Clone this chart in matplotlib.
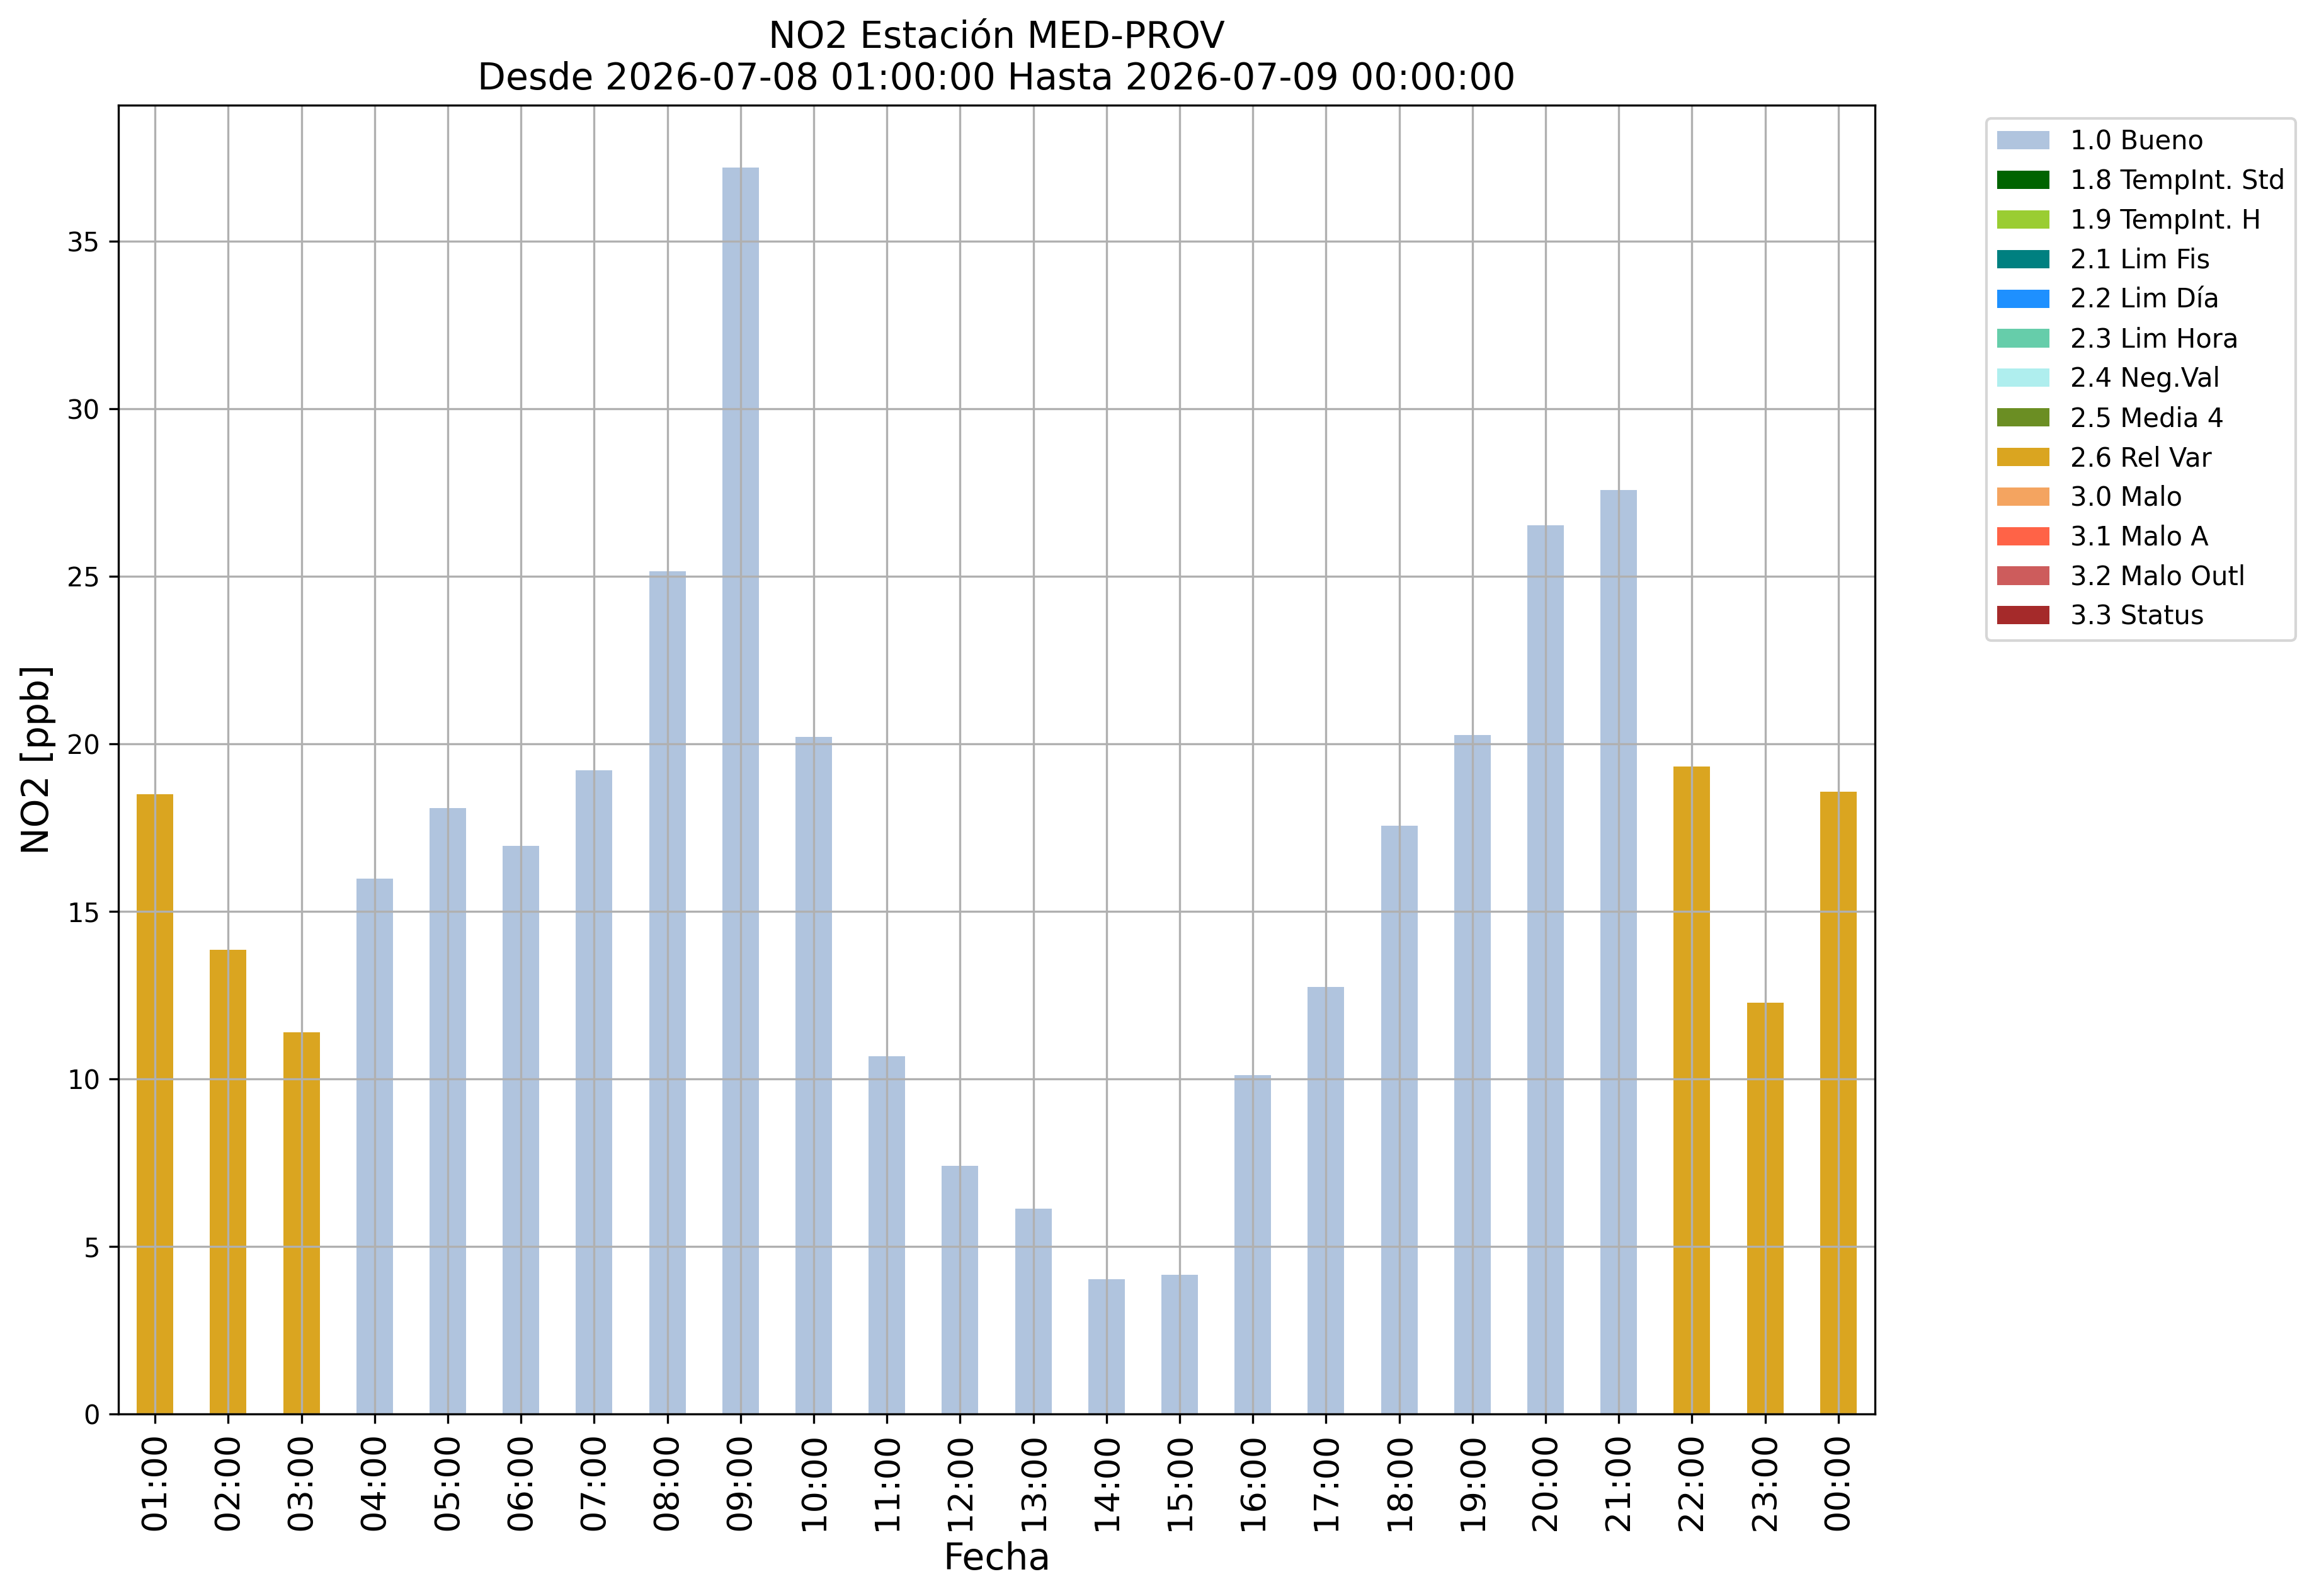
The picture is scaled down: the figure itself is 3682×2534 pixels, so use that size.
import matplotlib
matplotlib.use("Agg")
import matplotlib.pyplot as plt
from matplotlib.patches import Patch

# ---- data ----
hours = ["01:00", "02:00", "03:00", "04:00", "05:00", "06:00", "07:00", "08:00",
         "09:00", "10:00", "11:00", "12:00", "13:00", "14:00", "15:00", "16:00",
         "17:00", "18:00", "19:00", "20:00", "21:00", "22:00", "23:00", "00:00"]
no2_values = [18.49, 13.86, 11.39, 15.98, 18.09, 16.95, 19.20, 25.15,
              37.20, 20.21, 10.68, 7.41, 6.13, 4.02, 4.15, 10.11,
              12.75, 17.56, 20.26, 26.52, 27.58, 19.33, 12.27, 18.57]
bar_flags = ["2.6 Rel Var", "2.6 Rel Var", "2.6 Rel Var", "1.0 Bueno", "1.0 Bueno",
             "1.0 Bueno", "1.0 Bueno", "1.0 Bueno", "1.0 Bueno", "1.0 Bueno",
             "1.0 Bueno", "1.0 Bueno", "1.0 Bueno", "1.0 Bueno", "1.0 Bueno",
             "1.0 Bueno", "1.0 Bueno", "1.0 Bueno", "1.0 Bueno", "1.0 Bueno",
             "1.0 Bueno", "2.6 Rel Var", "2.6 Rel Var", "2.6 Rel Var"]
flag_labels = ["1.0 Bueno", "1.8 TempInt. Std", "1.9 TempInt. H", "2.1 Lim Fis",
               "2.2 Lim Día", "2.3 Lim Hora", "2.4 Neg.Val", "2.5 Media 4",
               "2.6 Rel Var", "3.0 Malo", "3.1 Malo A", "3.2 Malo Outl", "3.3 Status"]
flag_colors = ["lightsteelblue", "darkgreen", "yellowgreen", "teal",
               "dodgerblue", "mediumaquamarine", "paleturquoise", "olivedrab",
               "goldenrod", "sandybrown", "tomato", "indianred", "brown"]

title_text = "NO2 Estación MED-PROV\nDesde 2026-07-08 01:00:00 Hasta 2026-07-09 00:00:00"

# ---- plot ----
color_map = dict(zip(flag_labels, flag_colors))
fig = plt.figure(figsize=(3682 / 300, 2534 / 300), dpi=300)
ax = fig.add_axes([0.0511, 0.1141, 0.8085 - 0.0511, 0.9341 - 0.1141])

x = list(range(len(hours)))
ax.bar(x, no2_values, width=0.5, color=[color_map[f] for f in bar_flags])
ax.set_xlim(-0.5, len(hours) - 0.5)
ax.set_xticks(x)
ax.set_xticklabels(hours, rotation=90, fontsize=13)
ax.tick_params(axis="y", labelsize=10)
ax.grid(True)

ax.set_title(title_text, fontsize=14)
ax.set_xlabel("Fecha", fontsize=14)
ax.set_ylabel("NO2 [ppb]", fontsize=14)

handles = [Patch(facecolor=c, label=l) for l, c in zip(flag_labels, flag_colors)]
ax.legend(handles=handles, loc="upper left", bbox_to_anchor=(1.056, 1), fontsize=10)

fig.savefig("out.png", dpi=300)
